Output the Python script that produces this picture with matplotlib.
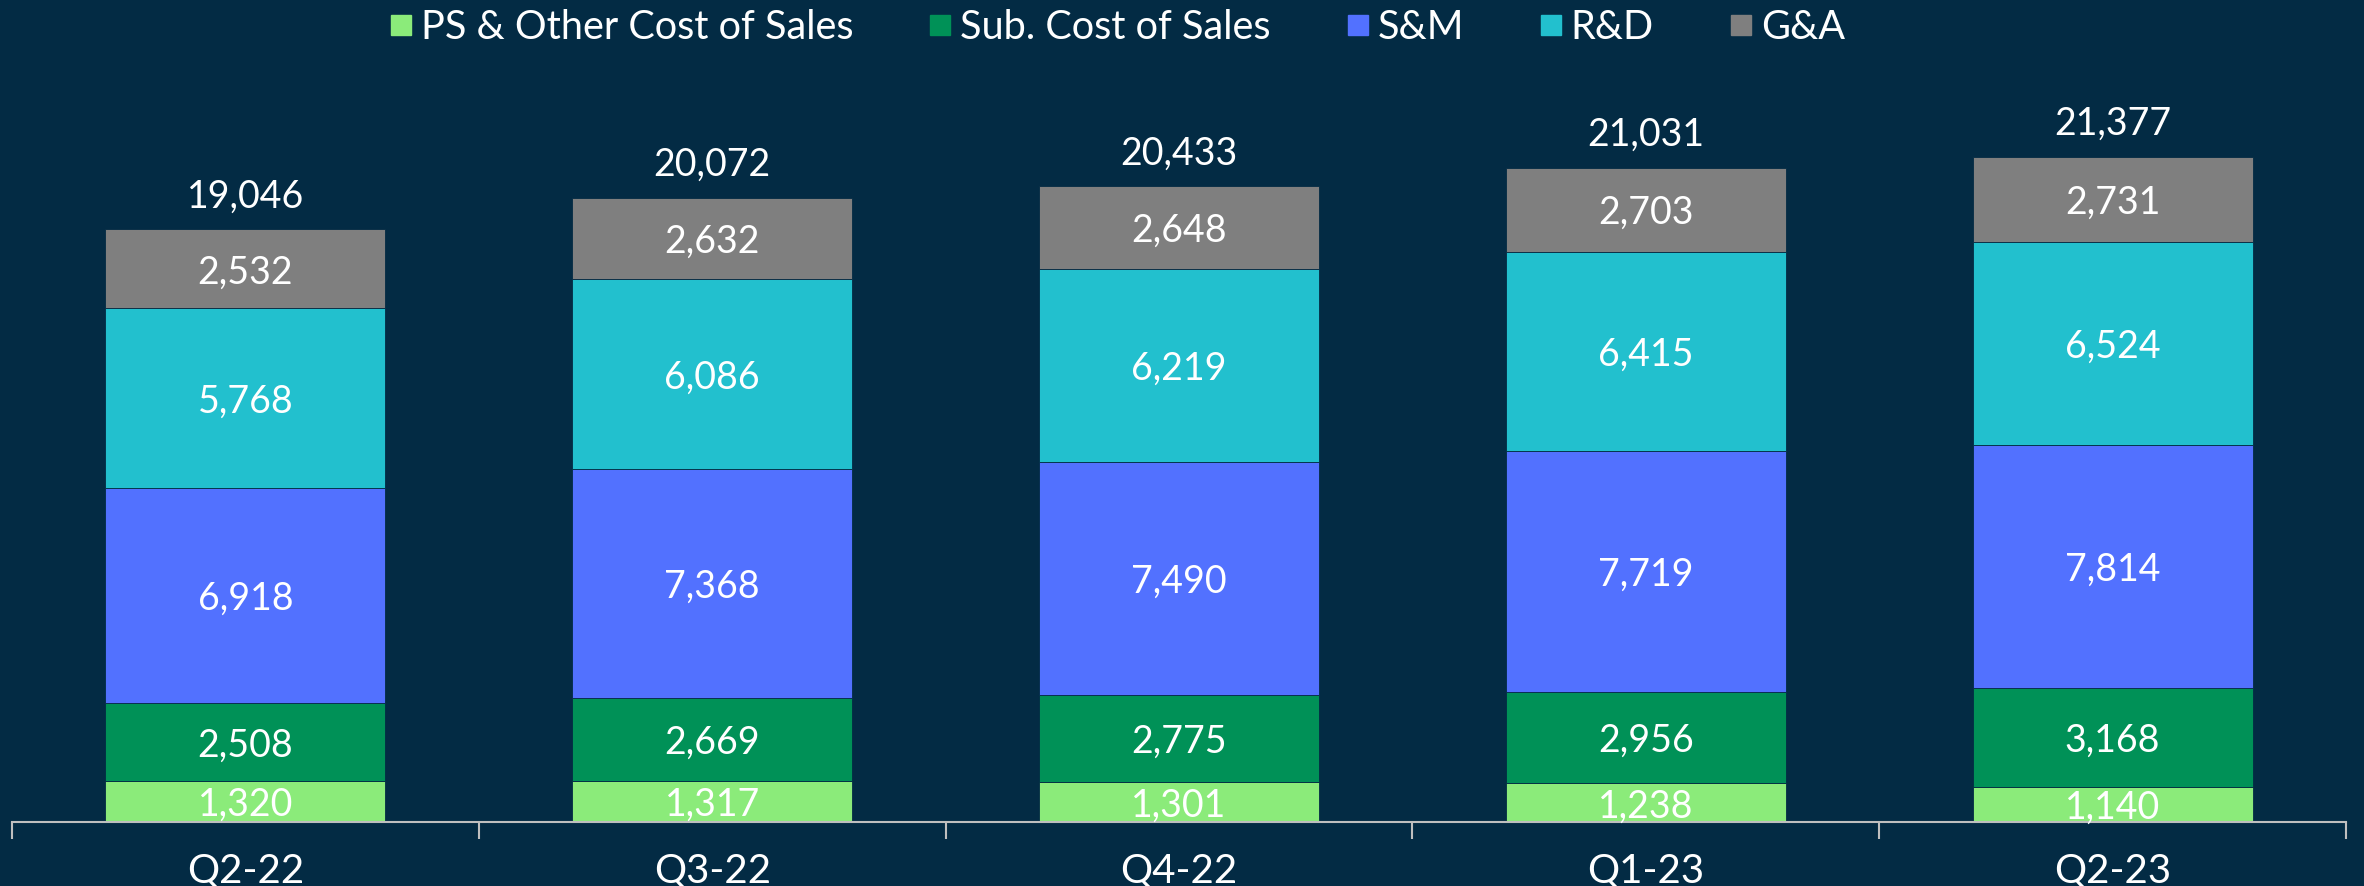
import matplotlib
matplotlib.use("Agg")
import matplotlib.pyplot as plt
from matplotlib.lines import Line2D
import numpy as np

quarters = ["Q2-22", "Q3-22", "Q4-22", "Q1-23", "Q2-23"]
series_names = ["PS & Other Cost of Sales", "Sub. Cost of Sales", "S&M", "R&D", "G&A"]
ps_other = [1320, 1317, 1301, 1238, 1140]
sub_cost = [2508, 2669, 2775, 2956, 3168]
s_and_m = [6918, 7368, 7490, 7719, 7814]
r_and_d = [5768, 6086, 6219, 6415, 6524]
g_and_a = [2532, 2632, 2648, 2703, 2731]
totals = [19046, 20072, 20433, 21031, 21377]

colors = ["#8BEB7A", "#009157", "#5271FF", "#22C0CE", "#7F7F7F"]
bg = "#032B44"
FONT = ["Lato", "DejaVu Sans"]
plt.rcParams["font.family"] = FONT

fig = plt.figure(figsize=(23.64, 8.86), dpi=100, facecolor=bg)
ax = fig.add_axes([12/2364, (886-822)/886, (2346-12)/2364, 822/886])
ax.set_facecolor(bg)

x = np.arange(len(quarters))
bottom = np.zeros(len(quarters))
data = [ps_other, sub_cost, s_and_m, r_and_d, g_and_a]
for vals, col, name in zip(data, colors, series_names):
    vals = np.array(vals, dtype=float)
    ax.bar(x, vals, bottom=bottom, width=0.6, color=col, edgecolor=bg, linewidth=0.6, label=name)
    for xi, b, v in zip(x, bottom, vals):
        ax.text(xi, b + v/2, f"{int(v):,}", ha="center", va="center_baseline", color="white", fontsize=27)
    bottom += vals

for xi, t in zip(x, totals):
    ax.text(xi, t + 480, f"{t:,}", ha="center", va="bottom", color="white", fontsize=27)

ax.set_xlim(-0.5, len(quarters) - 0.5)
ax.set_ylim(0, 26420)
for s in ["top", "right", "left"]:
    ax.spines[s].set_visible(False)
ax.spines["bottom"].set_color("#BFBFBF")
ax.spines["bottom"].set_linewidth(1.5)
ax.set_yticks([])
ax.set_xticks(x)
ax.set_xticklabels(quarters, color="white", fontsize=29)
ax.tick_params(axis="x", which="major", length=0, pad=22)
ax.set_xticks(np.arange(-0.5, len(quarters), 1.0), minor=True)
ax.tick_params(axis="x", which="minor", length=12, width=1.5, color="#BFBFBF")

handles = [Line2D([], [], marker="s", linestyle="none", markersize=14, markerfacecolor=c, markeredgecolor=c) for c in colors]
leg = fig.legend(handles, series_names, loc="upper center", bbox_to_anchor=(1116/2364, 1.03), ncol=5,
                 frameon=False, fontsize=28.5, labelcolor="white", handletextpad=0.15, columnspacing=1.85,
                 handlelength=0.7)

fig.savefig("out.png", dpi=100, facecolor=bg)
